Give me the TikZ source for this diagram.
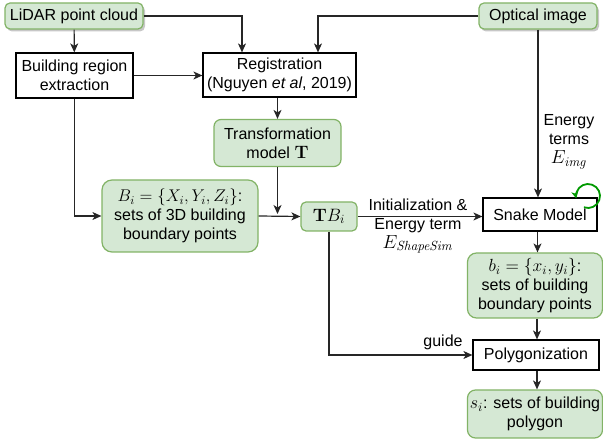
\RequirePackage{fix-cm}
\documentclass[tikz,border=0pt]{standalone}
\usepackage[no-math]{fontspec}
\usepackage{graphicx}
\setmainfont{Liberation Sans}
\usetikzlibrary{arrows.meta,calc}
\definecolor{boxfill}{HTML}{D5E8D4}
\definecolor{boxline}{HTML}{82B366}
\definecolor{loopgreen}{HTML}{009900}
% formulas are set a little larger than the surrounding 16pt text
\newcommand{\fm}[2][1.08]{\scalebox{#1}{$#2$}}
\tikzset{
  every node/.style={font=\fontsize{16}{19}\selectfont},
  plainbox/.style={draw=black, line width=1.2pt, fill=white, align=center, inner sep=0pt},
  greenbox/.style={draw=boxline, line width=1.2pt, fill=boxfill, align=center, inner sep=0pt},
  shadowed/.style={preaction={fill=black!22, draw=none, transform canvas={xshift=2pt, yshift=-2.5pt}}},
  flow/.style={draw=black!85, line width=1.2pt, -{Stealth[length=9pt,width=8pt,inset=2.5pt]}},
  lbl/.style={align=center, inner sep=0pt},
}
\begin{document}
\begin{tikzpicture}[x=1pt, y=-1pt]
\useasboundingbox (0,0) rectangle (603,443);

% input data
\node[greenbox, shadowed, rounded corners=5pt, minimum width=138pt, minimum height=26pt] (lidar) at (74,16) {LiDAR point cloud};
\node[greenbox, shadowed, rounded corners=5pt, minimum width=118pt, minimum height=26pt] (optical) at (538,16) {Optical image};

% processing chain
\node[plainbox, minimum width=117pt, minimum height=45pt] (extract) at (74.5,75.5) {Building region\\extraction};
\node[plainbox, minimum width=153pt, minimum height=44pt] (reg) at (279.5,75) {Registration\\(Nguyen \textit{et al}, 2019)};
\node[greenbox, rounded corners=7pt, minimum width=127pt, minimum height=47pt] (trans) at (277.5,143) {Transformation\\model \fm[1.12]{\mathbf{T}}};
\node[greenbox, rounded corners=10pt, minimum width=156pt, minimum height=72pt] (Bset) at (180,216) {\fm[1.06]{B_i = \{X_i, Y_i, Z_i\}}:\\sets of 3D building\\boundary points};
\node[greenbox, rounded corners=5pt, minimum width=56pt, minimum height=29pt] (TB) at (329,216.5) {\fm[1.12]{\mathbf{T}B_i}};
\node[plainbox, minimum width=114pt, minimum height=33pt] (snake) at (540,214.5) {Snake Model};
\node[greenbox, rounded corners=9pt, minimum width=135pt, minimum height=65pt] (bset) at (535,285.5) {\fm[1.1]{b_i = \{x_i, y_i\}}:\\sets of building\\boundary points};
\node[plainbox, minimum width=126pt, minimum height=30pt] (poly) at (536,355) {Polygonization};
\node[greenbox, rounded corners=8pt, minimum width=135pt, minimum height=48pt] (sset) at (535,414) {\fm[1.12]{s_i}: sets of building\\polygon};

% connectors
\draw[flow] (lidar) -- (extract);
\draw[flow] (lidar.east) -| (reg.north -| 242,0);
\draw[flow] (optical.west) -| (reg.north -| 318,0);
\draw[flow] (extract.east) -- (extract.east -| reg.west);
\draw[flow] (extract.south) |- (Bset.west);
\draw[flow] (reg.south -| trans.north) -- (trans.north);
\coordinate (join) at (trans.south |- Bset.east);
\draw[flow] (trans.south) -- ($(join)+(0,-2)$);
\draw[flow] (Bset.east) -- (TB.west);
\draw[flow] (TB.east) -- (TB.east -| snake.west);
\draw[flow] (optical.south) -- (optical.south |- snake.north);
\draw[flow] (snake.south -| 537.5,0) -- (bset.north -| 537.5,0);
\draw[flow] (bset.south -| 537,0) -- (poly.north -| 537,0);
\draw[flow] (poly.south -| 537,0) -- (sset.north -| 537,0);
\draw[flow] (TB.south) |- (poly.west);

% connector labels
\node[lbl] (initlbl) at (418,226) {Initialization \&\\Energy term\\\fm[1.18]{E_{\mathit{ShapeSim}}}};
\node[lbl] (imglbl) at (569,142) {Energy\\terms\\\fm[1.18]{E_{\mathit{img}}}};
\node[lbl] (guidelbl) at (443,342) {guide};

% iteration loop on the snake model
\coordinate (loopc) at (588,196);
\draw[draw=loopgreen, line width=1.8pt, -{Stealth[length=7pt,width=7pt,inset=2pt]}]
  ($(loopc)+(-110:12pt)$) arc[start angle=-110, end angle=192, radius=12pt];
\end{tikzpicture}
\end{document}
